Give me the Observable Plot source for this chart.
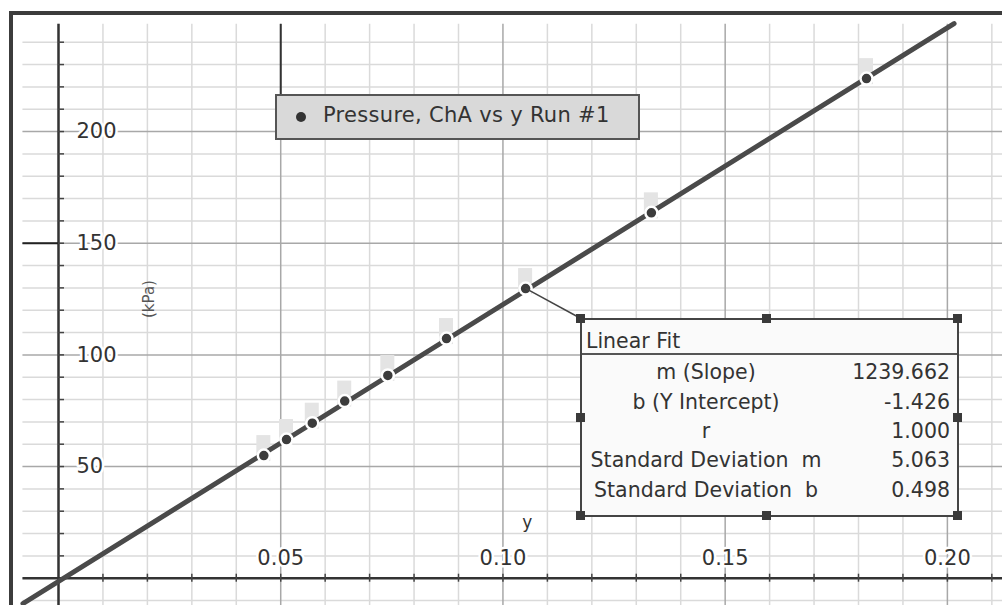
<!DOCTYPE html>
<html>
<head>
<meta charset="utf-8">
<script src="https://cdn.jsdelivr.net/npm/d3@7"></script>
<script src="https://cdn.jsdelivr.net/npm/@observablehq/plot@0.6"></script>
<style>
  html, body { margin: 0; padding: 0; background: #fff; }
  body { width: 1002px; height: 605px; overflow: hidden; position: relative; font-family: "DejaVu Sans", sans-serif; }
  #frame { position: absolute; left: 9px; top: 11px; width: 989px; height: 590px; border-left: 4px solid #3c3c3c; border-top: 4px solid #3c3c3c; }
  #chart { position: absolute; left: 0; top: 0; }
  .legend { position: absolute; left: 275px; top: 94px; width: 361px; height: 42px; background: #d9d9d9; border: 2px solid #555; color: #333; font-size: 21px; }
  .legend .dot { position: absolute; left: 19px; top: 16px; width: 10px; height: 10px; border-radius: 50%; background: #333; }
  .legend .lbl { position: absolute; left: 46px; top: 7px; white-space: nowrap; letter-spacing: 0.3px; }
  .fit { position: absolute; left: 580px; top: 318px; width: 375px; height: 195px; background: #fafafa; border: 2px solid #444; color: #333; font-size: 20.5px; }
  .fit .hdr { position: absolute; left: 4px; top: 9px; }
  .fit .sep { position: absolute; left: 0; right: 0; top: 33px; border-top: 2px solid #555; }
  .fit .lab { position: absolute; left: 4px; width: 240px; text-align: center; white-space: pre; }
  .fit .val { position: absolute; right: 7px; text-align: right; }
  .handle { position: absolute; width: 9px; height: 9px; background: #3a3a3a; }
  #overlay { position: absolute; left: 0; top: 0; pointer-events: none; }
</style>
</head>
<body>
<div id="frame"><div id="chart"></div></div>
<svg id="overlay" width="1002" height="605"></svg>
<div class="legend"><div class="dot"></div><div class="lbl" id="legendText"></div></div>
<div class="fit" id="fitBox"></div>
<script>
// ---- data ----
const seriesName = "Pressure, ChA vs y Run #1";
const xValues = [0.0462, 0.0513, 0.0571, 0.0644, 0.0741, 0.0873, 0.1051, 0.1334, 0.1818];
const pressure = [54.9, 62.1, 69.4, 79.3, 90.8, 107.3, 129.7, 163.6, 223.7];
const fitSlope = 1239.662;
const fitIntercept = -1.426;
const fitExtent = [-0.008, 0.2015];
const fitLabels = ["m (Slope)", "b (Y Intercept)", "r", "Standard Deviation  m", "Standard Deviation  b"];
const fitValues = ["1239.662", "-1.426", "1.000", "5.063", "0.498"];
const xTickValues = [0.05, 0.10, 0.15, 0.20];
const xTickLabels = ["0.05", "0.10", "0.15", "0.20"];
const yTickValues = [50, 100, 150, 200];
const yTickLabels = ["50", "100", "150", "200"];
const xGrid = d3.range(0, 22).map(i => i / 100);
const yGrid = d3.range(-1, 25).map(i => i * 10);
const gridTop = 248, gridLeft = -0.008;
const xLabel = "y", yLabel = "(kPa)";

const points = xValues.map((x, i) => ({x, y: pressure[i]}));
const fitLine = fitExtent.map(x => ({x, y: fitSlope * x + fitIntercept}));

const W = 989, H = 590;
const xDomain = [-0.010125, 0.2124];
const yDomain = [-12.22, 251.96];
const pxPerX = W / (xDomain[1] - xDomain[0]);
const pxPerY = H / (yDomain[1] - yDomain[0]);

const isMajorX = v => Math.abs(Math.round(v * 100) % 5) === 0 && v !== 0;
const isMajorY = v => v % 50 === 0 && v !== 0;

const plot = Plot.plot({
  width: W, height: H,
  marginLeft: 0, marginRight: 0, marginTop: 0, marginBottom: 0,
  x: {domain: xDomain, axis: null},
  y: {domain: yDomain, axis: null},
  style: {background: "transparent", fontFamily: "DejaVu Sans, sans-serif"},
  marks: [
    // grid
    Plot.ruleY(yGrid.filter(v => !isMajorY(v)), {y: d => d, x1: gridLeft, x2: xDomain[1], stroke: "#dadada", strokeWidth: 1.5}),
    Plot.ruleX(xGrid.filter(v => !isMajorX(v)), {x: d => d, y1: yDomain[0], y2: gridTop, stroke: "#dadada", strokeWidth: 1.5}),
    Plot.ruleY(yGrid.filter(isMajorY), {y: d => d, x1: gridLeft, x2: xDomain[1], stroke: "#a8a8a8", strokeWidth: 1.5}),
    Plot.ruleX(xGrid.filter(isMajorX), {x: d => d, y1: yDomain[0], y2: gridTop, stroke: "#a8a8a8", strokeWidth: 1.5}),
    // darker segment of 0.05 line above legend
    Plot.ruleX([0.05], {x: d => d, y1: 216.5, y2: gridTop, stroke: "#333", strokeWidth: 2}),
    // axes
    Plot.ruleX([0], {x: d => d, y1: yDomain[0], y2: gridTop, stroke: "#333", strokeWidth: 2.5}),
    Plot.ruleY([0], {y: d => d, x1: gridLeft, x2: xDomain[1], stroke: "#333", strokeWidth: 2.5}),
    Plot.ruleY([150], {y: d => d, x1: gridLeft, x2: 0, stroke: "#222", strokeWidth: 2}),
    // small ticks
    Plot.ruleY(yGrid.filter(v => v > 0), {y: d => d, x1: 0, x2: 6 / pxPerX, stroke: "#444", strokeWidth: 1.5}),
    Plot.ruleX(xGrid.filter(v => v > 0), {x: d => d, y1: -4 / pxPerY, y2: 4 / pxPerY, stroke: "#444", strokeWidth: 1.5}),
    // tick labels
    Plot.text(yTickValues, {x: 0, y: d => d, text: (d, i) => yTickLabels[i], dx: 18, textAnchor: "start", fontSize: 21, fill: "#333", stroke: "white", strokeWidth: 5, paintOrder: "stroke"}),
    Plot.text(xTickValues, {x: d => d, y: 0, text: (d, i) => xTickLabels[i], dy: -20, textAnchor: "middle", fontSize: 21, fill: "#333", stroke: "white", strokeWidth: 5, paintOrder: "stroke"}),
    // axis labels
    Plot.text([yLabel], {x: 0.0205, y: 125, text: d => d, rotate: -90, fontSize: 15, fill: "#555"}),
    Plot.text([xLabel], {x: 0.1055, y: 25, text: d => d, fontSize: 17, fill: "#333"}),
    // ghost markers behind points
    Plot.rect(points, {x1: d => d.x - 7 / pxPerX, x2: d => d.x + 7 / pxPerX, y1: d => d.y - 6 / pxPerY, y2: d => d.y + 20 / pxPerY, fill: "#e4e4e4"}),
    // fit line
    Plot.line(fitLine, {x: "x", y: "y", stroke: "#4a4a4a", strokeWidth: 5}),
    // data points
    Plot.dot(points, {x: "x", y: "y", r: 6, fill: "#3c3c3c", stroke: "white", strokeWidth: 2.5})
  ]
});
document.getElementById("chart").appendChild(plot);

// legend
document.getElementById("legendText").textContent = seriesName;

// fit box
const box = document.getElementById("fitBox");
box.innerHTML = '<div class="hdr">Linear Fit</div><div class="sep"></div>';
const rowTops = [40, 70, 99, 128, 158];
fitLabels.forEach((lab, i) => {
  const l = document.createElement("div"); l.className = "lab"; l.style.top = rowTops[i] + "px"; l.textContent = lab; box.appendChild(l);
  const v = document.createElement("div"); v.className = "val"; v.style.top = rowTops[i] + "px"; v.textContent = fitValues[i]; box.appendChild(v);
});
// handles at corners and midpoints
const bx0 = 580, by0 = 318, bx1 = 957, by1 = 515;
const hp = [[bx0, by0], [(bx0 + bx1) / 2 - 3, by0], [bx1, by0], [bx0, (by0 + by1) / 2], [bx1, (by0 + by1) / 2], [bx0, by1], [(bx0 + bx1) / 2 - 3, by1], [bx1, by1]];
hp.forEach(([x, y]) => {
  const h = document.createElement("div"); h.className = "handle";
  h.style.left = (x - 4) + "px"; h.style.top = (y - 4) + "px";
  document.body.appendChild(h);
});
// connector from highlighted point to box
const sx = plot.scale("x"), sy = plot.scale("y");
const px = sx.apply(xValues[6]) + 13, py = sy.apply(pressure[6]) + 15;
const ov = d3.select("#overlay");
ov.append("line").attr("x1", px).attr("y1", py).attr("x2", bx0).attr("y2", by0).attr("stroke", "#444").attr("stroke-width", 1.5);
</script>
</body>
</html>
